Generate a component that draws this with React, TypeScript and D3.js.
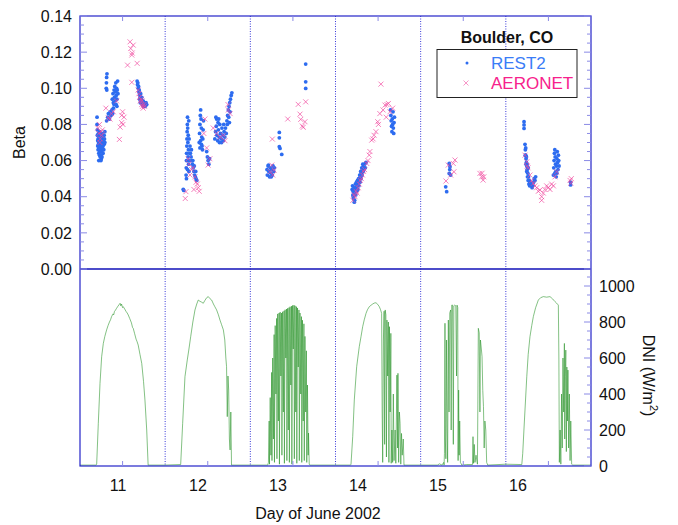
import React from 'react';
import * as d3 from 'd3';

// day-of-June 2002, local hour, value
const days = [11, 12, 13, 14, 15, 16];
const dayLabels = ['11', '12', '13', '14', '15', '16'];

// REST2 beta, [hour, beta]
const rest2Day11 = [
  [4.8, 0.084], [4.8, 0.080], [4.9, 0.077], [4.9, 0.074], [5.0, 0.071], [5.0, 0.068], [5.1, 0.072], [5.1, 0.066],
  [5.2, 0.075], [5.2, 0.069], [5.3, 0.064], [5.3, 0.070], [5.4, 0.073], [5.4, 0.067], [5.5, 0.063], [5.5, 0.076],
  [5.6, 0.071], [5.6, 0.065], [5.7, 0.062], [5.7, 0.068], [5.8, 0.074], [5.8, 0.070], [5.9, 0.066], [5.9, 0.063],
  [6.0, 0.061], [6.0, 0.072], [6.1, 0.069], [6.1, 0.065], [6.2, 0.075], [6.2, 0.062], [6.3, 0.067], [6.3, 0.070],
  [6.4, 0.073], [6.5, 0.064], [6.5, 0.068], [6.6, 0.071], [6.7, 0.066], [6.8, 0.069], [6.8, 0.074], [6.9, 0.072],
  [7.0, 0.076], [7.0, 0.070], [5.3, 0.060], [5.9, 0.060],
  [7.4, 0.100], [7.45, 0.103], [7.5, 0.106], [7.6, 0.108], [7.55, 0.099], [7.5, 0.082], [7.8, 0.084], [8.0, 0.086],
  [8.3, 0.083], [8.5, 0.087], [8.7, 0.085], [9.0, 0.088], [9.2, 0.086], [9.4, 0.089], [9.6, 0.091],
  [9.1, 0.094], [9.3, 0.097], [9.4, 0.092], [9.6, 0.099], [9.7, 0.095], [9.8, 0.101], [9.9, 0.093], [10.0, 0.098],
  [10.1, 0.103], [10.2, 0.096], [10.3, 0.100], [10.4, 0.094], [10.5, 0.099], [10.6, 0.104], [10.7, 0.097],
  [10.4, 0.090], [10.2, 0.091],
  [16.1, 0.104], [16.2, 0.102], [16.3, 0.103], [16.4, 0.100], [16.5, 0.101], [16.6, 0.098], [16.7, 0.099],
  [16.8, 0.097], [16.9, 0.096], [17.0, 0.095], [17.1, 0.097], [17.2, 0.094], [17.3, 0.093], [17.4, 0.095],
  [17.5, 0.092], [17.6, 0.091], [17.8, 0.093], [17.9, 0.090], [18.0, 0.092], [18.2, 0.091], [18.4, 0.090],
  [18.6, 0.092], [18.8, 0.091], [17.0, 0.092], [16.8, 0.094],
];
const rest2Day12 = [
  [5.1, 0.0441], [5.24, 0.0435],
  [5.9, 0.052], [5.95, 0.056], [6.0, 0.060], [6.05, 0.064], [6.1, 0.068], [6.15, 0.072], [6.2, 0.076], [6.25, 0.080],
  [6.3, 0.084], [6.35, 0.078], [6.4, 0.070], [6.45, 0.062], [6.5, 0.074], [6.55, 0.066], [6.6, 0.058], [6.65, 0.082],
  [6.7, 0.054], [6.75, 0.072], [6.8, 0.060], [6.9, 0.064], [7.0, 0.068], [6.0, 0.050], [6.3, 0.055],
  [7.1, 0.064], [7.3, 0.062], [7.5, 0.060], [7.7, 0.058], [7.9, 0.056], [8.1, 0.054], [8.3, 0.052], [8.5, 0.051],
  [8.7, 0.050], [8.9, 0.049], [7.4, 0.066], [7.8, 0.060], [8.2, 0.057], [8.6, 0.054],
  [9.6, 0.070], [9.7, 0.075], [9.8, 0.080], [9.9, 0.085], [10.0, 0.088], [10.1, 0.083], [10.2, 0.078], [10.3, 0.073],
  [10.4, 0.068], [10.5, 0.066], [10.6, 0.072], [10.7, 0.077], [10.8, 0.082], [9.8, 0.067], [10.0, 0.071], [10.2, 0.069],
  [11.7, 0.065], [11.9, 0.062], [12.1, 0.060], [12.3, 0.058], [12.5, 0.061],
  [14.3, 0.084],
  [14.0, 0.072], [14.2, 0.076], [14.4, 0.079], [14.6, 0.074], [14.8, 0.071], [15.0, 0.077], [15.2, 0.073],
  [15.4, 0.080], [15.6, 0.075], [15.8, 0.072], [16.0, 0.078], [16.2, 0.074], [16.4, 0.071], [16.6, 0.076],
  [16.8, 0.073], [17.0, 0.078], [17.2, 0.075], [15.3, 0.070], [15.9, 0.070], [16.5, 0.080], [14.9, 0.081],
  [14.5, 0.083], [15.1, 0.083],
  [17.4, 0.082], [17.6, 0.085], [17.8, 0.088], [18.0, 0.090], [18.2, 0.092], [18.4, 0.094], [18.6, 0.096],
  [18.8, 0.0975], [17.5, 0.080], [17.9, 0.084], [18.3, 0.087], [18.1, 0.081],
];
const rest2Day13 = [
  [4.7, 0.055], [4.8, 0.052], [5.0, 0.057], [5.2, 0.054], [5.4, 0.051], [5.6, 0.056], [5.8, 0.053], [6.0, 0.055],
  [6.2, 0.052], [6.4, 0.057], [6.6, 0.054], [6.8, 0.056], [5.1, 0.0575], [5.9, 0.051],
  [8.17, 0.0756], [8.17, 0.0726], [8.17, 0.0677], [8.37, 0.0667], [8.85, 0.0634],
  [15.6, 0.1134], [15.6, 0.1036], [15.6, 0.0999],
];
const rest2Day14 = [
  [4.7, 0.044], [4.8, 0.046], [4.9, 0.041], [5.0, 0.043], [5.1, 0.039], [5.2, 0.045], [5.3, 0.042], [5.4, 0.038],
  [5.5, 0.044], [5.6, 0.047], [5.7, 0.041], [5.8, 0.045], [5.9, 0.048], [6.0, 0.043], [6.1, 0.046], [6.2, 0.049],
  [6.3, 0.044], [6.4, 0.047], [6.5, 0.050], [6.6, 0.046], [6.7, 0.049], [6.8, 0.052], [6.9, 0.048], [7.0, 0.051],
  [7.1, 0.054], [7.2, 0.050], [7.3, 0.053], [7.4, 0.056], [7.5, 0.052], [7.6, 0.055], [7.7, 0.058], [7.8, 0.054],
  [7.9, 0.057], [8.0, 0.055], [8.2, 0.058], [8.4, 0.056], [8.6, 0.059], [5.0, 0.040], [5.3, 0.037],
  [15.5, 0.088], [15.6, 0.085], [15.7, 0.082], [15.8, 0.079], [15.9, 0.076], [16.0, 0.083], [16.1, 0.080],
  [16.2, 0.087], [16.3, 0.078], [16.4, 0.075], [16.5, 0.081], [16.6, 0.084],
];
const rest2Day15 = [
  [7.05, 0.0455], [7.33, 0.0428], [8.06, 0.0584], [8.26, 0.0566], [8.06, 0.0529], [8.45, 0.052], [8.2, 0.055],
];
const rest2Day16 = [
  [5.13, 0.0815], [5.13, 0.0797], [5.13, 0.0778],
  [5.4, 0.069], [5.5, 0.066], [5.6, 0.063], [5.7, 0.061], [5.8, 0.059], [5.9, 0.057], [6.0, 0.055], [6.2, 0.053],
  [6.4, 0.051], [6.6, 0.049], [6.8, 0.048], [7.0, 0.047], [7.2, 0.046], [7.4, 0.045], [7.6, 0.046], [5.5, 0.063],
  [5.7, 0.058], [5.9, 0.054], [6.1, 0.051], [6.3, 0.049], [6.5, 0.047], [6.7, 0.046], [5.6, 0.067], [5.8, 0.062],
  [6.0, 0.058], [6.3, 0.056], [7.8, 0.048], [8.0, 0.050], [8.2, 0.049], [8.4, 0.051],
  [13.4, 0.052], [13.5, 0.056], [13.6, 0.060], [13.7, 0.064], [13.8, 0.066], [13.9, 0.062], [14.0, 0.058],
  [14.1, 0.054], [14.2, 0.051], [14.3, 0.057], [14.4, 0.061], [14.5, 0.065], [14.6, 0.059], [14.7, 0.055],
  [14.8, 0.063], [14.9, 0.060], [15.0, 0.057], [13.8, 0.053], [14.4, 0.053],
  [18.25, 0.0465], [18.25, 0.048],
];

// AERONET beta, [hour, beta]
const aeronetDay11 = [
  [5.0, 0.078], [5.3, 0.075], [5.5, 0.080], [5.7, 0.072], [5.9, 0.076], [6.1, 0.074], [6.3, 0.077], [5.6, 0.070],
  [7.3, 0.089], [8.9, 0.086], [9.4, 0.087], [10.3, 0.093], [8.45, 0.083], [8.0, 0.0835],
  [12.0, 0.087], [11.75, 0.085], [11.75, 0.081], [11.3, 0.0785], [11.1, 0.0717], [12.4, 0.084], [12.1, 0.080],
  [14.1, 0.1257], [15.0, 0.1239], [14.3, 0.122], [14.6, 0.1184], [13.4, 0.1128], [16.1, 0.1138], [14.6, 0.1033],
  [14.7, 0.1195],
  [16.4, 0.099], [16.6, 0.097], [16.8, 0.095], [17.0, 0.093], [17.2, 0.094], [17.4, 0.091], [17.6, 0.090],
  [17.8, 0.089], [18.0, 0.091], [18.2, 0.090], [17.5, 0.093],
];
const aeronetDay12 = [
  [5.66, 0.039], [5.86, 0.0428], [6.5, 0.061], [7.47, 0.055], [8.4, 0.051], [9.05, 0.047], [9.33, 0.045],
  [6.7, 0.058], [7.0, 0.052], [7.8, 0.056], [8.7, 0.048], [8.1, 0.044], [9.6, 0.043],
  [11.2, 0.083], [10.9, 0.075], [11.7, 0.067], [12.6, 0.061], [12.1, 0.0575],
  [13.55, 0.078], [14.5, 0.075], [15.4, 0.073], [16.4, 0.074], [16.85, 0.071],
  [17.8, 0.088], [18.3, 0.086], [17.7, 0.091],
];
const aeronetDay13 = [
  [6.03, 0.0575], [6.68, 0.0547], [6.31, 0.052], [5.55, 0.0538], [6.2, 0.0719], [10.54, 0.083],
  [13.5, 0.0911], [15.6, 0.0925], [14.0, 0.0857], [14.2, 0.0828], [15.4, 0.0815], [14.9, 0.0784], [14.65, 0.0791],
];
const aeronetDay14 = [
  [4.9, 0.038], [5.2, 0.041], [5.5, 0.040], [5.8, 0.043], [6.1, 0.042], [6.4, 0.045], [6.7, 0.047], [7.0, 0.049],
  [7.3, 0.050], [7.6, 0.052], [7.9, 0.054], [8.2, 0.055],
  [8.8, 0.0584], [9.5, 0.063], [9.7, 0.065], [10.2, 0.0713], [10.85, 0.074], [11.4, 0.076], [11.9, 0.0815],
  [12.5, 0.086], [13.95, 0.0907], [14.9, 0.0916], [12.8, 0.1023], [14.3, 0.084], [16.1, 0.089],
  [9.15, 0.060], [10.6, 0.072], [12.1, 0.080], [13.4, 0.088], [14.5, 0.091], [15.35, 0.087],
];
const aeronetDay15 = [
  [7.13, 0.0487], [7.78, 0.0575], [9.19, 0.0584], [9.67, 0.0603], [9.38, 0.0538], [8.45, 0.052],
  [16.7, 0.0529], [17.2, 0.051], [17.6, 0.0492], [17.8, 0.051], [17.3, 0.053],
];
const aeronetDay16 = [
  [5.9, 0.0593], [6.25, 0.056], [6.8, 0.052], [7.3, 0.049], [7.75, 0.0474], [8.2, 0.046], [8.7, 0.045],
  [9.16, 0.043], [9.6, 0.0437], [10.1, 0.040], [10.1, 0.038], [10.57, 0.042], [11.0, 0.044], [11.5, 0.046],
  [12.0, 0.045], [12.45, 0.044], [12.9, 0.047], [13.4, 0.046], [13.86, 0.051], [14.3, 0.0538],
  [18.1, 0.049], [18.3, 0.0474], [18.45, 0.050], [5.4, 0.063], [6.0, 0.057],
];

// DNI W/m2, [hour, dni]
const dniDay11 = [
  [0, 5], [4.5, 5], [4.7, 10], [5.16, 237], [5.64, 459], [6.1, 607], [6.57, 681], [7.0, 720], [7.5, 756],
  [7.9, 780], [8.3, 800], [8.6, 812], [8.9, 830], [9.3, 845], [9.5, 840], [9.7, 858], [10.0, 866], [10.3, 876],
  [10.7, 888], [11.0, 896], [11.3, 904], [11.5, 890], [11.7, 900], [12.0, 880], [12.2, 885], [12.6, 872],
  [13.0, 858], [13.3, 850], [13.6, 839], [14.0, 820], [14.5, 795], [14.8, 770], [15.0, 765], [15.4, 735],
  [15.8, 705], [16.1, 690], [16.4, 672], [16.9, 620], [17.4, 570], [17.9, 470], [18.3, 367], [18.8, 200],
  [19.2, 5], [24, 5],
];
const dniDay12 = [
  [0, 5], [4.37, 8], [4.93, 237], [5.58, 496], [6.23, 589], [6.7, 650], [7.19, 718], [7.8, 800], [8.4, 867],
  [8.9, 900], [9.33, 922], [9.8, 915], [10.3, 910], [10.74, 904], [11.2, 920], [11.7, 935], [12.15, 941],
  [12.6, 930], [13.1, 922], [13.6, 900], [14.0, 885], [14.5, 867], [15.0, 840], [15.44, 811], [15.9, 785],
  [16.4, 756], [16.8, 700], [17.1, 600], [17.3, 552], [17.5, 274], [17.7, 500], [17.9, 422], [18.1, 150],
  [18.3, 89], [18.5, 300], [18.7, 5], [24, 5],
];
const dniDay13 = [
  [0, 5], [4.9, 5], [5.1, 20], [5.3, 250], [5.4, 10], [5.6, 380], [5.8, 60], [6.0, 520], [6.1, 30], [6.3, 600],
  [6.5, 150], [6.7, 730], [6.8, 20], [7.0, 780], [7.2, 400], [7.4, 820], [7.5, 40], [7.7, 845], [7.9, 250],
  [8.1, 850], [8.2, 10], [8.4, 855], [8.6, 500], [8.8, 850], [8.9, 60], [9.1, 857], [9.3, 300], [9.5, 862],
  [9.6, 15], [9.8, 868], [10.0, 600], [10.2, 872], [10.3, 30], [10.5, 876], [10.7, 200], [10.9, 880], [11.0, 20],
  [11.2, 885], [11.4, 450], [11.6, 888], [11.7, 10], [11.9, 892], [12.1, 650], [12.3, 894], [12.4, 40],
  [12.6, 890], [12.8, 300], [13.0, 885], [13.1, 15], [13.3, 878], [13.5, 550], [13.7, 867], [13.8, 30],
  [14.0, 850], [14.2, 400], [14.4, 830], [14.5, 20], [14.7, 810], [14.9, 250], [15.1, 790], [15.2, 30],
  [15.4, 720], [15.6, 300], [15.8, 640], [15.9, 20], [16.1, 450], [16.3, 60], [16.4, 183], [16.6, 10],
  [16.8, 5], [24, 5],
];
const dniDay14 = [
  [0, 5], [4.2, 5], [4.37, 10], [4.85, 163], [5.3, 367], [5.97, 552], [6.7, 663], [7.2, 720], [7.66, 774],
  [8.1, 812], [8.6, 848], [9.0, 868], [9.52, 885], [10.0, 893], [10.48, 900], [10.9, 905], [11.41, 907],
  [11.9, 898], [12.35, 885], [12.7, 868], [13.0, 848], [13.15, 300], [13.3, 20], [13.5, 700], [13.7, 860],
  [13.85, 120], [14.0, 867], [14.2, 840], [14.35, 50], [14.5, 811], [14.7, 500], [14.9, 800], [15.05, 20],
  [15.2, 774], [15.4, 300], [15.6, 737], [15.7, 15], [15.9, 200], [16.1, 20], [16.3, 400], [16.5, 30],
  [16.8, 200], [17.0, 15], [17.3, 505], [17.5, 100], [17.6, 515], [17.8, 20], [18.0, 300], [18.2, 237],
  [18.4, 10], [18.6, 181], [18.8, 60], [19.1, 150], [19.3, 5], [24, 5],
];
const dniDay15 = [
  [0, 5], [4.7, 5], [5.3, 12], [6.0, 5], [6.5, 20], [6.6, 5], [6.7, 70], [6.85, 793], [6.95, 150], [7.1, 40],
  [7.3, 700], [7.45, 200], [7.6, 20], [7.8, 811], [8.0, 300], [8.2, 850], [8.45, 867], [8.6, 200], [8.75, 894],
  [9.0, 894], [9.2, 120], [9.35, 890], [9.6, 894], [9.9, 890], [10.1, 500], [10.25, 894], [10.45, 880],
  [10.55, 30], [10.7, 422], [10.85, 60], [11.0, 250], [11.2, 20], [11.6, 5], [13.0, 8], [14.6, 8],
  [14.75, 163], [14.9, 15], [15.1, 120], [15.3, 20], [15.6, 60], [16.0, 10], [16.25, 765], [16.5, 740],
  [16.7, 300], [16.85, 700], [17.1, 650], [17.3, 607], [17.5, 420], [17.7, 330], [17.9, 100], [18.1, 250],
  [18.35, 200], [18.6, 20], [18.9, 5], [24, 10],
];
const dniDay16 = [
  [0, 10], [4.5, 8], [4.76, 70], [5.1, 200], [5.4, 311], [5.9, 496], [6.3, 620], [6.8, 718], [7.3, 780],
  [7.75, 830], [8.4, 880], [9.16, 922], [9.8, 935], [10.57, 941], [11.5, 938], [12.45, 941], [13.2, 928],
  [13.86, 913], [14.3, 905], [14.8, 894], [14.95, 600], [15.08, 20], [15.3, 200], [15.5, 10], [15.7, 400],
  [15.9, 100], [16.1, 600], [16.3, 300], [16.5, 681], [16.6, 150], [16.75, 496], [16.9, 644], [17.05, 80],
  [17.2, 550], [17.35, 250], [17.5, 533], [17.7, 100], [17.9, 400], [18.1, 30], [18.3, 250], [18.55, 10],
  [18.85, 5], [24, 5],
];

const betaTicks = [0, 0.02, 0.04, 0.06, 0.08, 0.1, 0.12, 0.14];
const dniTicks = [0, 200, 400, 600, 800, 1000];

const rest2 = [rest2Day11, rest2Day12, rest2Day13, rest2Day14, rest2Day15, rest2Day16];
const aeronet = [aeronetDay11, aeronetDay12, aeronetDay13, aeronetDay14, aeronetDay15, aeronetDay16];
const dni = [dniDay11, dniDay12, dniDay13, dniDay14, dniDay15, dniDay16];

const toPoints = (series: number[][][]) =>
  series.flatMap((pts, i) => pts.map(([h, v]) => ({ t: days[i] + h / 24, v })));

const W = 678;
const H = 525;
const left = 80;
const right = 591;
const top = 16;
const mid = 269;
const bottom = 466;

const axisColor = '#2323c8';
const tickColor = '#8a8ae6';
const font = 'Liberation Sans, Arial, sans-serif';

const App = () => {
  const x = d3.scaleLinear().domain([11, 17]).range([left, right]);
  const yBeta = d3.scaleLinear().domain([0, 0.14]).range([mid, top]);
  const yDni = d3.scaleLinear().domain([0, 1000]).range([bottom, 286]);
  // the day labels in the original sit on their own, slightly narrower spacing
  const xLabel = d3.scalePoint().domain(dayLabels).range([left + 38, left + 438]);

  const rest2Pts = toPoints(rest2);
  const aeroPts = toPoints(aeronet);
  const dniPts = toPoints(dni);

  const line = d3.line<{ t: number; v: number }>()
    .x(d => x(d.t))
    .y(d => yDni(d.v));

  const betaMinor = d3.range(0, 0.1401, 0.005);
  const dniMax = yDni.invert(mid);
  const dniMinor = d3.range(0, dniMax, 50);

  const cross = 'M-2.5,-2.5L2.5,2.5M-2.5,2.5L2.5,-2.5';

  return (
    <svg width={W} height={H} style={{ position: 'absolute', left: 0, top: 0, fontFamily: font }}>
      <rect width={W} height={H} fill="#fff" />

      {/* day dividers */}
      {days.slice(1).map(d => (
        <line key={d} x1={x(d)} x2={x(d)} y1={top} y2={bottom}
          stroke="#3a3ad8" strokeWidth={1} strokeDasharray="1,1.5" />
      ))}

      {/* DNI */}
      <path d={line(dniPts) || ''} fill="none" stroke="#238f23" strokeWidth={0.7} strokeOpacity={0.8} />

      {/* REST2 */}
      {rest2Pts.map((d, i) => (
        <circle key={i} cx={x(d.t)} cy={yBeta(d.v)} r={1.9} fill="#2d6cf0" />
      ))}
      {/* AERONET */}
      {aeroPts.map((d, i) => (
        <path key={i} d={cross} transform={`translate(${x(d.t)},${yBeta(d.v)})`}
          fill="none" stroke="#f0449c" strokeWidth={0.9} strokeOpacity={0.75} />
      ))}

      {/* frame */}
      <rect x={left} y={top} width={right - left} height={bottom - top} fill="none" stroke={axisColor} strokeWidth={1.2} />
      <line x1={left} x2={right} y1={mid} y2={mid} stroke="#1010b8" strokeWidth={1.4} />

      {/* left beta axis */}
      {betaMinor.map((v, i) => (
        <g key={i}>
          <line x1={left} x2={left + (i % 4 === 0 ? 7 : 4)} y1={yBeta(v)} y2={yBeta(v)} stroke={tickColor} />
          <line x1={right} x2={right - (i % 4 === 0 ? 7 : 4)} y1={yBeta(v)} y2={yBeta(v)} stroke={tickColor} />
        </g>
      ))}
      {betaTicks.map(v => (
        <text key={v} x={left - 8} y={yBeta(v)} dy="0.36em" textAnchor="end" fontSize={16} fill="#111">
          {d3.format('.2f')(v)}
        </text>
      ))}
      <text transform={`translate(25,${(top + mid) / 2}) rotate(-90)`} textAnchor="middle" fontSize={16} fill="#111">
        Beta
      </text>

      {/* right DNI axis */}
      {dniMinor.map((v, i) => (
        <line key={i} x1={right} x2={right - (i % 4 === 0 ? 7 : 4)} y1={yDni(v)} y2={yDni(v)} stroke={tickColor} />
      ))}
      {dniTicks.map(v => (
        <text key={v} x={right + 8} y={yDni(v)} dy="0.36em" textAnchor="start" fontSize={16} fill="#111">
          {v}
        </text>
      ))}
      <text transform={`translate(643,${(mid + bottom) / 2 + 8}) rotate(90)`} textAnchor="middle" fontSize={16} fill="#111">
        DNI (W/m<tspan dy="-7" fontSize={11}>2</tspan><tspan dy="7">)</tspan>
      </text>

      {/* day ticks */}
      {days.map(d => (
        <g key={d}>
          <line x1={x(d + 0.5)} x2={x(d + 0.5)} y1={top} y2={top + 5} stroke={tickColor} />
          <line x1={x(d + 0.5)} x2={x(d + 0.5)} y1={bottom} y2={bottom - 5} stroke={tickColor} />
        </g>
      ))}
      {dayLabels.map(l => (
        <text key={l} x={xLabel(l)} y={491} textAnchor="middle" fontSize={16} fill="#111">{l}</text>
      ))}
      <text x={((xLabel('11') as number) + (xLabel('16') as number)) / 2} y={519} textAnchor="middle" fontSize={16} fill="#111">
        Day of June 2002
      </text>

      {/* legend */}
      <text x={507} y={43} textAnchor="middle" fontSize={16} fontWeight="bold" fill="#111">Boulder, CO</text>
      <rect x={437} y={49.5} width={140} height={48} fill="#fff" stroke="#222" strokeWidth={1} />
      <circle cx={467} cy={63} r={1.5} fill="#2d6cf0" />
      <text x={491} y={69} fontSize={17} fill="#3a7cf7">REST2</text>
      <path d={cross} transform="translate(466,83)" fill="none" stroke="#f0449c" strokeWidth={0.8} strokeOpacity={0.7} />
      <text x={491} y={89} fontSize={17} fill="#f7218c">AERONET</text>
    </svg>
  );
};

export default App;
